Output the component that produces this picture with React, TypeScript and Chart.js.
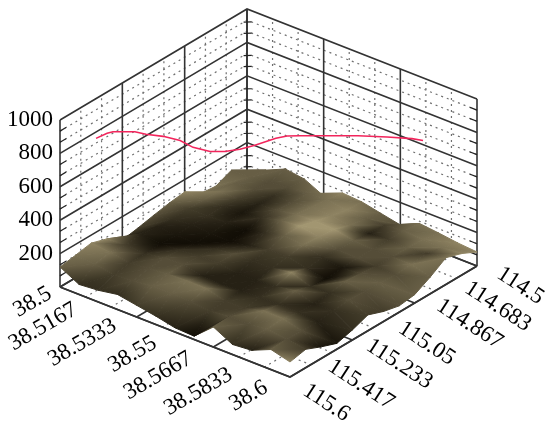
import React, { useEffect, useRef } from "react";
import { Chart, registerables } from "chart.js";

Chart.register(...registerables);

const W = 552;
const H = 430;

// ---------- data ----------
const latTicks = [38.5, 38.5167, 38.5333, 38.55, 38.5667, 38.5833, 38.6];
const lonTicks = [114.5, 114.683, 114.867, 115.05, 115.233, 115.417, 115.6];
const zTicks = [200, 400, 600, 800, 1000];

const latNodes = [38.5, 38.5083, 38.5167, 38.525, 38.5333, 38.5417, 38.55, 38.5583, 38.5667, 38.575, 38.5833, 38.5917, 38.6];
const lonNodes = [114.5, 114.592, 114.683, 114.775, 114.867, 114.958, 115.05, 115.142, 115.233, 115.325, 115.417, 115.508, 115.6];

// terrain height: one row per lon node, one column per lat node
const terrain = [
  [35, 80, 132, 116, 60, 122, 114, 90, 66, 120, 108, 93, 84],
  [90, 95, 110, 120, 130, 140, 120, 115, 120, 130, 125, 120, 130],
  [50, 110, 120, 125, 135, 150, 140, 130, 125, 135, 130, 140, 160],
  [60, 115, 120, 130, 140, 160, 165, 160, 140, 130, 130, 130, 100],
  [126, 125, 130, 135, 150, 180, 190, 170, 140, 135, 130, 125, 50],
  [114, 125, 125, 135, 130, 160, 190, 180, 150, 130, 140, 130, 38],
  [96, 120, 130, 125, 120, 140, 160, 165, 140, 120, 150, 135, 60],
  [76, 130, 125, 120, 130, 145, 150, 150, 170, 130, 135, 140, 95],
  [60, 140, 125, 135, 140, 145, 130, 130, 140, 160, 125, 130, 60],
  [122, 130, 125, 140, 150, 125, 120, 125, 130, 135, 130, 120, 35],
  [152, 140, 125, 135, 145, 150, 150, 120, 120, 150, 150, 120, 70],
  [135, 125, 110, 115, 130, 130, 125, 115, 125, 125, 140, 125, 110],
  [120, 60, 70, 90, 70, 50, 25, 20, 120, 60, 70, 120, 90],
];

// surface lightness, 0 (black) to 9 (pale tan), same layout as terrain
const lightness = [
  [6, 6, 6, 6, 7, 8, 7, 6, 5, 7, 7, 8, 8],
  [6, 6, 5, 5, 6, 7, 8, 6, 4, 6, 7, 7, 8],
  [7, 6, 5, 3, 5, 7, 8, 7, 2, 4, 6, 4, 7],
  [7, 7, 4, 2, 5, 7, 9, 9, 6, 5, 5, 7, 6],
  [8, 6, 3, 1, 3, 6, 9, 8, 5, 5, 4, 5, 6],
  [6, 4, 3, 2, 0, 3, 6, 7, 3, 1, 5, 6, 5],
  [5, 3, 2, 1, 0, 2, 4, 4, 3, 0, 6, 5, 4],
  [4, 2, 1, 0, 3, 5, 3, 3, 8, 3, 3, 5, 4],
  [2, 2, 0, 3, 4, 4, 2, 2, 3, 6, 2, 3, 3],
  [8, 4, 3, 5, 5, 2, 2, 2, 3, 3, 3, 2, 1],
  [8, 7, 4, 5, 6, 7, 7, 4, 4, 7, 7, 5, 1],
  [7, 6, 4, 5, 6, 6, 5, 4, 5, 5, 6, 5, 4],
  [6, 3, 3, 3, 4, 3, 2, 0, 6, 3, 2, 6, 8],
];

// flight track
const routeLat = [38.5028, 38.5057, 38.5073, 38.5131, 38.516, 38.5206, 38.5251, 38.5285, 38.533, 38.5369, 38.5409, 38.5449, 38.5504, 38.5534, 38.5568, 38.5722, 38.5799, 38.5865, 38.5894];
const routeLon = [115.426, 115.4, 115.387, 115.337, 115.311, 115.272, 115.233, 115.203, 115.164, 115.13, 115.095, 115.061, 115.012, 114.987, 114.957, 114.824, 114.757, 114.7, 114.674];
const routeAlt = [800, 830, 840, 841, 826, 815, 791, 750, 726, 726, 740, 765, 807, 822, 823, 826, 819, 811, 800];

// ---------- view ----------
const LAT0 = 38.5, LAT1 = 38.6, LON0 = 114.5, LON1 = 115.6, ZMAX = 1000;
const backCorner = { x: 247, y: 176 };
const latVec = { x: 230, y: 90 };
const lonVec = { x: -187, y: 111 };
const zPx = 0.167;

// offsets of tick labels from their tick
const latLabelOffset = [[-10, 5], [-23, 6], [-22, 7], [-20, 9.5], [-23, 10], [-21, 11], [-24, 9]];
const lonLabelOffset = [[22, 6], [21, 2], [24, 1], [17, 5], [16, 4], [9, 6], [15, 12]];

const FONT = '23px "Liberation Serif"';
const DARK = [18, 14, 6];
const TAN = [162, 150, 113];
const GAMMA = 1.3;
const MAJOR = "#333333";
const MINOR = "#707070";
const ROUTE = "#f2255c";

type P = { x: number; y: number };

function project(lat: number, lon: number, z: number): P {
  const u = (lat - LAT0) / (LAT1 - LAT0);
  const v = (lon - LON0) / (LON1 - LON0);
  return {
    x: backCorner.x + latVec.x * u + lonVec.x * v,
    y: backCorner.y + latVec.y * u + lonVec.y * v - zPx * z,
  };
}

function tone(s: number): string {
  const t = Math.pow(Math.max(0, Math.min(1, s / 9)), GAMMA);
  const c = DARK.map((d, i) => Math.round(d + (TAN[i] - d) * t));
  return `rgb(${c[0]},${c[1]},${c[2]})`;
}

function triangleGradient(chart: any, tri: P[], shade: number[]) {
  const sx = chart.scales?.x;
  const sy = chart.scales?.y;
  const mean = (shade[0] + shade[1] + shade[2]) / 3;
  if (!sx || !sy) return tone(mean);
  const p = tri.map((q) => ({ x: sx.getPixelForValue(q.x), y: sy.getPixelForValue(q.y) }));
  if (p.some((q) => !Number.isFinite(q.x) || !Number.isFinite(q.y))) return tone(mean);
  const dx1 = p[1].x - p[0].x, dy1 = p[1].y - p[0].y;
  const dx2 = p[2].x - p[0].x, dy2 = p[2].y - p[0].y;
  const det = dx1 * dy2 - dx2 * dy1;
  const d1 = shade[1] - shade[0], d2 = shade[2] - shade[0];
  if (Math.abs(det) < 1e-6 || (d1 === 0 && d2 === 0)) return tone(mean);
  const a = (d1 * dy2 - d2 * dy1) / det;
  const b = (d2 * dx1 - d1 * dx2) / det;
  const len2 = a * a + b * b;
  let lo = 0, hi = 0;
  shade.forEach((s, i) => {
    if (s < shade[lo]) lo = i;
    if (s > shade[hi]) hi = i;
  });
  const range = shade[hi] - shade[lo];
  const g = chart.ctx.createLinearGradient(
    p[lo].x,
    p[lo].y,
    p[lo].x + (a / len2) * range,
    p[lo].y + (b / len2) * range
  );
  for (let k = 0; k <= 4; k++) g.addColorStop(k / 4, tone(shade[lo] + (range * k) / 4));
  return g;
}

function lineDs(points: P[], color: string, width: number, dash: number[] = []) {
  return {
    data: points,
    showLine: true,
    fill: false,
    borderColor: color,
    borderWidth: width,
    borderDash: dash,
    pointRadius: 0,
    tension: 0,
  };
}

function buildDatasets() {
  const out: any[] = [];
  const DOT = [2, 4];
  const nDiv = 9;
  const latAt = (k: number) => LAT0 + ((LAT1 - LAT0) * k) / nDiv;
  const lonAt = (k: number) => LON0 + ((LON1 - LON0) * k) / nDiv;

  // minor grid first, so major lines sit on top
  for (const pass of ["minor", "major"]) {
    const isMajor = pass === "major";
    const col = isMajor ? MAJOR : MINOR;
    const w = isMajor ? 1.6 : 1.2;
    const dash = isMajor ? [] : DOT;
    for (let k = 0; k <= nDiv; k++) {
      if ((k % 3 === 0) !== isMajor) continue;
      // walls: verticals
      out.push(lineDs([project(LAT0, lonAt(k), 0), project(LAT0, lonAt(k), ZMAX)], col, w, dash));
      out.push(lineDs([project(latAt(k), LON0, 0), project(latAt(k), LON0, ZMAX)], col, w, dash));
      // floor
      out.push(lineDs([project(LAT0, lonAt(k), 0), project(LAT1, lonAt(k), 0)], col, w, dash));
      out.push(lineDs([project(latAt(k), LON0, 0), project(latAt(k), LON1, 0)], col, w, dash));
    }
    for (let k = 0; k <= 15; k++) {
      if ((k % 3 === 0) !== isMajor) continue;
      const z = (ZMAX * k) / 15;
      out.push(lineDs([project(LAT0, LON1, z), project(LAT0, LON0, z), project(LAT1, LON0, z)], col, w, dash));
    }
  }
  // small z ticks at wall corners
  for (let k = 1; k < 15; k++) {
    if (k % 3 === 0) continue;
    const z = (ZMAX * k) / 15;
    out.push(lineDs([project(LAT1, LON0, z), project(LAT1 - 0.003, LON0, z)], "#222", 1.2));
    out.push(lineDs([project(LAT0, LON1, z), project(LAT0, LON1 - 0.035, z)], "#222", 1.2));
    out.push(lineDs([project(LAT0 + 0.002, LON0, z), project(LAT0, LON0 + 0.02, z)], "#222", 1.2));
  }

  // flight track
  out.push(lineDs(routeLat.map((la, i) => project(la, routeLon[i], routeAlt[i])), ROUTE, 1.6));

  // surface: back to front
  const n = latNodes.length;
  const m = lonNodes.length;
  const cells: [number, number][] = [];
  for (let j = 0; j < m - 1; j++) for (let i = 0; i < n - 1; i++) cells.push([i, j]);
  cells.sort((a, b) => a[0] + a[1] - (b[0] + b[1]));
  const node = (i: number, j: number) => project(latNodes[i], lonNodes[j], terrain[j][i]);
  for (const [i, j] of cells) {
    const tris: [number, number][][] = [
      [[i, j], [i + 1, j], [i, j + 1]],
      [[i + 1, j], [i + 1, j + 1], [i, j + 1]],
    ];
    for (const tri of tris) {
      const pts = tri.map(([a, b]) => node(a, b));
      const sh = tri.map(([a, b]) => lightness[b][a]);
      const paint = (c: any) => triangleGradient(c.chart, pts, sh);
      out.push({
        data: [...pts, pts[0]],
        showLine: true,
        fill: "shape",
        backgroundColor: paint,
        borderColor: paint,
        borderWidth: 1,
        pointRadius: 0,
        tension: 0,
      });
    }
  }

  // front axes
  out.push(lineDs([project(LAT0, LON1, 0), project(LAT1, LON1, 0), project(LAT1, LON0, 0)], MAJOR, 1.6));
  // Chart.js paints the first dataset last
  return out.reverse();
}

const labelPlugin = {
  id: "axisText",
  afterDatasetsDraw(chart: any) {
    const { ctx, scales } = chart;
    const px = (p: P) => ({ x: scales.x.getPixelForValue(p.x), y: scales.y.getPixelForValue(p.y) });
    ctx.save();
    ctx.font = FONT;
    ctx.fillStyle = "#000";
    ctx.textBaseline = "middle";
    const rotated = (text: string, at: P, angle: number, align: CanvasTextAlign) => {
      ctx.save();
      ctx.translate(at.x, at.y);
      ctx.rotate(angle);
      ctx.textAlign = align;
      ctx.fillText(text, 0, 0);
      ctx.restore();
    };
    zTicks.forEach((z) => {
      const p = px(project(LAT0, LON1, z));
      rotated(String(z), { x: p.x - 7, y: p.y }, 0, "right");
    });
    latTicks.forEach((lat, i) => {
      const p = px(project(lat, LON1, 0));
      rotated(String(lat), { x: p.x + latLabelOffset[i][0], y: p.y + latLabelOffset[i][1] }, (-30 * Math.PI) / 180, "right");
    });
    lonTicks.forEach((lon, i) => {
      const p = px(project(LAT1, lon, 0));
      rotated(String(lon), { x: p.x + lonLabelOffset[i][0], y: p.y + lonLabelOffset[i][1] }, (33 * Math.PI) / 180, "left");
    });
    ctx.restore();
  },
};

export default function App() {
  const ref = useRef<HTMLCanvasElement | null>(null);
  useEffect(() => {
    if (!ref.current) return;
    const chart = new Chart(ref.current, {
      type: "scatter",
      data: { datasets: buildDatasets() },
      options: {
        animation: false,
        responsive: false,
        devicePixelRatio: 1,
        layout: { padding: 0 },
        events: [],
        plugins: { legend: { display: false }, tooltip: { enabled: false }, title: { display: false } },
        scales: {
          x: { type: "linear", min: 0, max: W, display: false },
          y: { type: "linear", min: 0, max: H, reverse: true, display: false },
        },
      },
      plugins: [labelPlugin],
    } as any);
    return () => chart.destroy();
  }, []);
  return (
    <div style={{ position: "absolute", left: 0, top: 0, width: W, height: H, background: "#fff" }}>
      <canvas ref={ref} width={W} height={H} style={{ display: "block" }} />
    </div>
  );
}
